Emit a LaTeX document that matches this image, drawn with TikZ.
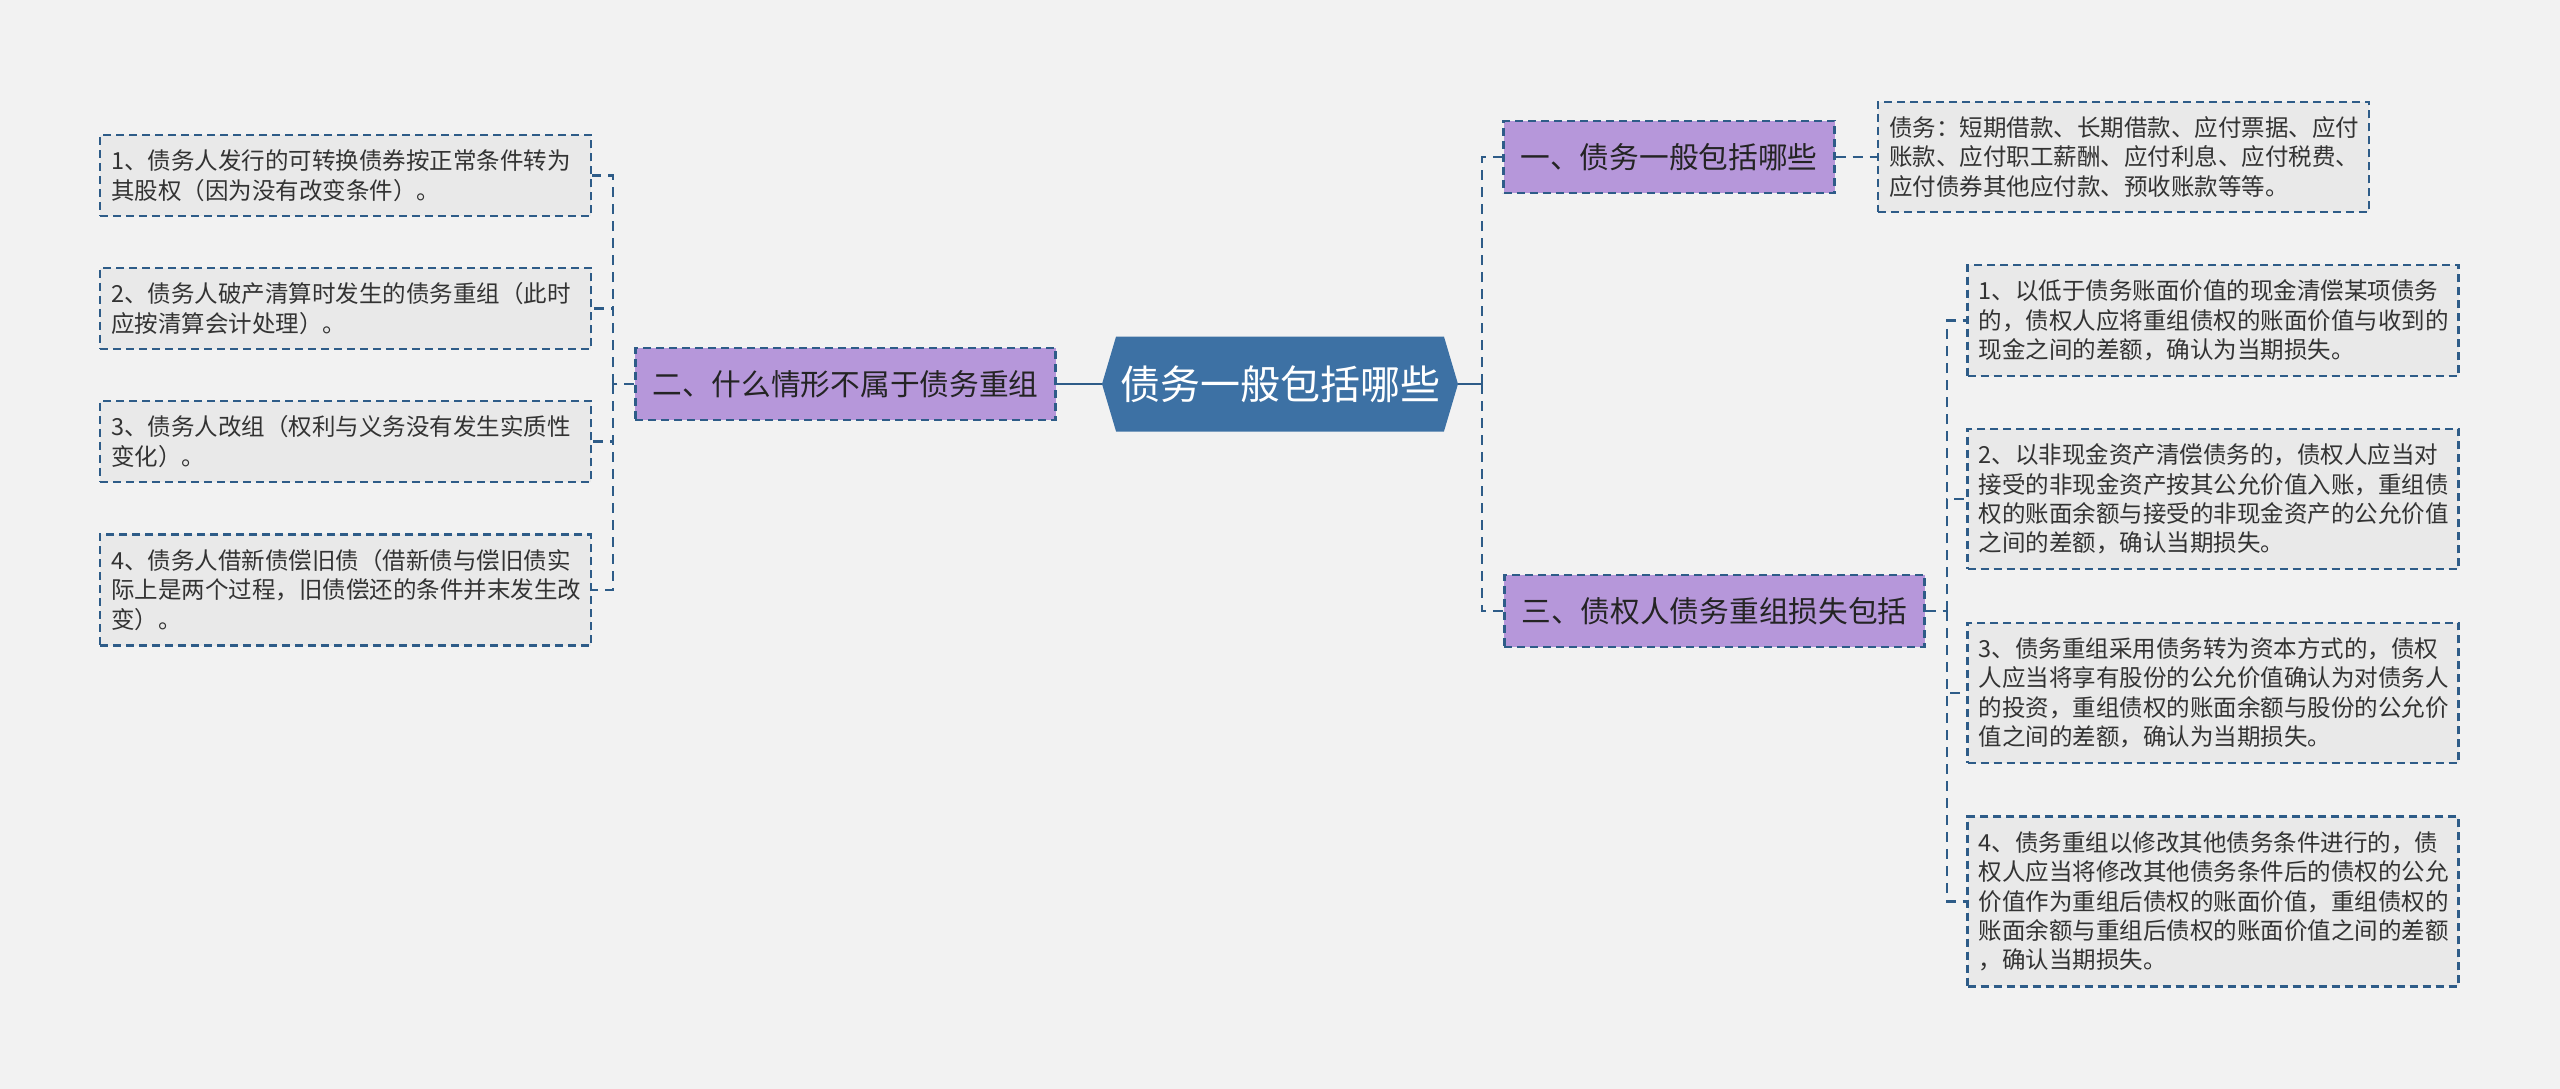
\documentclass[tikz,border=0pt]{standalone}
\usepackage{fontspec}
\setmainfont{Noto Sans CJK SC}
\usetikzlibrary{shapes.symbols}
\definecolor{BgClr}{HTML}{F2F2F2}
\definecolor{LinkClr}{HTML}{2E5C88}
\definecolor{RootClr}{HTML}{3D71A4}
\definecolor{BranchClr}{HTML}{B697DA}
\definecolor{LeafClr}{HTML}{E9E9E9}
\definecolor{TxtClr}{HTML}{333333}

\tikzset{
  root/.style={shape=signal, signal to=west and east, signal pointer angle=147,
    fill=RootClr, text=white, inner xsep=2pt, minimum width=356pt, minimum height=95pt,
    font=\fontsize{40}{48}\selectfont},
  branch/.style={draw=LinkClr, line width=2.2pt, dash pattern=on 8pt off 5pt,
    fill=BranchClr, text=TxtClr!70!black, inner xsep=17pt, minimum height=72pt,
    font=\fontsize{29.7}{36}\selectfont},
  leaf/.style={draw=LinkClr, line width=2.2pt, dash pattern=on 8pt off 5pt,
    fill=LeafClr, text=TxtClr, align=left, text width=469pt, inner xsep=11pt, inner ysep=15pt,
    font=\fontsize{23.5}{29.4}\selectfont},
  solidlink/.style={draw=LinkClr, line width=2.6pt},
  link/.style={draw=LinkClr, line width=2.6pt, dash pattern=on 10pt off 7pt}
}

\begin{document}
\begin{tikzpicture}[x=1pt,y=-1pt]
\fill[BgClr] (0,0) rectangle (2560,1089);

\node[root] (Root) at (1280,384) {债务一般包括哪些};

\node[branch] (A1) at (1669,157) {一、债务一般包括哪些};
\node[branch] (A2) at (845.5,384) {二、什么情形不属于债务重组};
\node[branch] (A3) at (1714.5,611) {三、债权人债务重组损失包括};

\node[leaf] (T1) at (2123.5,157) {债务：短期借款、长期借款、应付票据、应付\\账款、应付职工薪酬、应付利息、应付税费、\\应付债券其他应付款、预收账款等等。};

\node[leaf] (L1) at (345.5,175.5) {1、债务人发行的可转换债券按正常条件转为\\其股权（因为没有改变条件）。};
\node[leaf] (L2) at (345.5,308.5) {2、债务人破产清算时发生的债务重组（此时\\应按清算会计处理）。};
\node[leaf] (L3) at (345.5,441.5) {3、债务人改组（权利与义务没有发生实质性\\变化）。};
\node[leaf] (L4) at (345.5,590) {4、债务人借新债偿旧债（借新债与偿旧债实\\际上是两个过程，旧债偿还的条件并末发生改\\变）。};

\node[leaf] (R1) at (2213,320.5) {1、以低于债务账面价值的现金清偿某项债务\\的，债权人应将重组债权的账面价值与收到的\\现金之间的差额，确认为当期损失。};
\node[leaf] (R2) at (2213,499) {2、以非现金资产清偿债务的，债权人应当对\\接受的非现金资产按其公允价值入账，重组债\\权的账面余额与接受的非现金资产的公允价值\\之间的差额，确认当期损失。};
\node[leaf] (R3) at (2213,693) {3、债务重组采用债务转为资本方式的，债权\\人应当将享有股份的公允价值确认为对债务人\\的投资，重组债权的账面余额与股份的公允价\\值之间的差额，确认为当期损失。};
\node[leaf] (R4) at (2213,901.5) {4、债务重组以修改其他债务条件进行的，债\\权人应当将修改其他债务条件后的债权的公允\\价值作为重组后债权的账面价值，重组债权的\\账面余额与重组后债权的账面价值之间的差额\\，确认当期损失。};

\coordinate (JL) at (613,384);
\coordinate (JR) at (1482,384);
\coordinate (JB) at (1947,611);

\draw[solidlink] (Root.west) -- (A2.east);
\draw[solidlink] (Root.east) -- (JR);
\draw[link] (JR) |- (A1.west);
\draw[link] (JR) |- (A3.west);
\draw[link] (A1.east) -- (T1.west);
\draw[link] (A2.west) -- (JL);
\foreach \i in {1,...,4}
  \draw[link] (JL) |- (L\i.east);
\draw[link] (A3.east) -- (JB);
\foreach \i in {1,...,4}
  \draw[link] (JB) |- (R\i.west);

\end{tikzpicture}
\end{document}
